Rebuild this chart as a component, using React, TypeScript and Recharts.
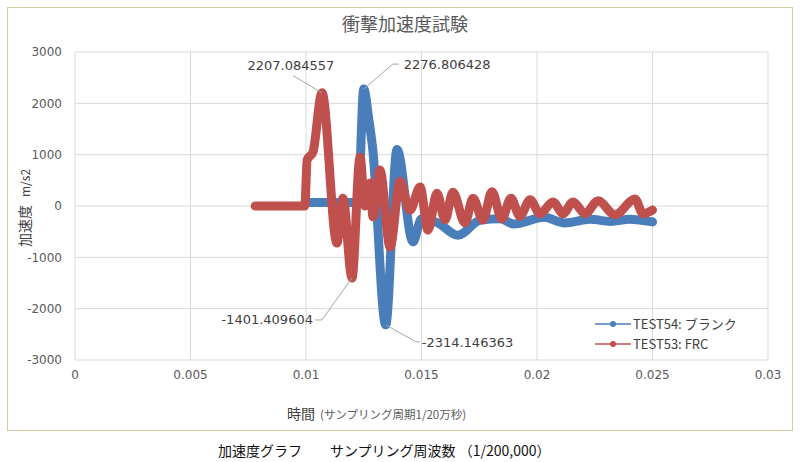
import { LineChart, Line, XAxis, YAxis, CartesianGrid } from "recharts";

// TEST54: ブランク (blue)
const test54Time = [0.01, 0.01225, 0.0125, 0.01273, 0.01288, 0.01345, 0.01394, 0.01463, 0.015, 0.0157, 0.01658, 0.01753, 0.0184, 0.019, 0.0203, 0.0212, 0.0223, 0.0232, 0.024, 0.025];
const test54Accel = [70, 70, 2276.806428, 1650, 1150, -2314.146363, 1100, -700, -250, -330, -570, -280, -250, -350, -220, -330, -260, -300, -260, -310];

// TEST53: FRC (red)
const test53Time = [0.0078, 0.00995, 0.01005, 0.0103, 0.01069, 0.01134, 0.0116, 0.01199, 0.01234, 0.01255, 0.01277, 0.0129, 0.0132, 0.01364, 0.01407, 0.0145, 0.01494, 0.01528, 0.01567, 0.01602, 0.01636, 0.01688, 0.01723, 0.01766, 0.01805, 0.01848, 0.01887, 0.01926, 0.0197, 0.02013, 0.02069, 0.02113, 0.02156, 0.02208, 0.02264, 0.02338, 0.02424, 0.02459, 0.025];
const test53Accel = [0, 0, 900, 1050, 2207.084557, -720, 150, -1401.409604, 950, 0, 450, -210, 700, -800, 480, -80, 370, -470, 250, -270, 270, -330, 150, -270, 280, -250, 150, -200, 120, -150, 80, -150, 80, -150, 100, -170, 135, -150, -80];

const xTicks = [0, 0.005, 0.01, 0.015, 0.02, 0.025, 0.03];
const yTicks = [-3000, -2000, -1000, 0, 1000, 2000, 3000];

const BLUE = "#4a7ebb";
const RED = "#c0504d";
const NUM_FONT = "'DejaVu Sans', 'Noto Sans CJK JP', sans-serif";
const JP_FONT = "'Noto Sans CJK JP', 'DejaVu Sans', sans-serif";

const rows: { t: number; a54?: number; a53?: number }[] = [];
test54Time.forEach((t, i) => rows.push({ t, a54: test54Accel[i] }));
test53Time.forEach((t, i) => rows.push({ t, a53: test53Accel[i] }));
rows.sort((p, q) => p.t - q.t);

const fmt = (v: number) => v.toFixed(6);

// leader-line offsets for the four labelled extremes
const annotate = (values: number[], color: string) => {
  const hi = Math.max(...values);
  const lo = Math.min(...values);
  return (props: any) => {
    const { x, y, value } = props;
    if (value !== hi && value !== lo) return <g />;
    const isBlue = color === BLUE;
    let path = "", tx = 0, ty = 0, anchor = "start";
    if (value === hi && isBlue) { path = `M${x},${y} l29,-25 l6,0`; tx = x + 40; ty = y - 25; }
    if (value === hi && !isBlue) { path = `M${x},${y} l-29,-17`; tx = x - 31; ty = y - 27; anchor = "middle"; }
    if (value === lo && !isBlue) { path = `M${x},${y} l-30,42 l-7,0`; tx = x - 39; ty = y + 42; anchor = "end"; }
    if (value === lo && isBlue) { path = `M${x},${y} l30,17 l4,0`; tx = x + 36; ty = y + 18; }
    return (
      <g>
        <path d={path} stroke="#a6a6a6" strokeWidth={1} fill="none" />
        <text x={tx} y={ty} dy="0.35em" textAnchor={anchor} fontSize={13} fill="#404040" fontFamily={NUM_FONT}>{fmt(value)}</text>
      </g>
    );
  };
};

const legendItems = [{ name: "TEST54: ブランク", color: BLUE }, { name: "TEST53: FRC", color: RED }];

const ChartLegend = () => (
  <div style={{ position: "absolute", left: 595, top: 314, fontFamily: JP_FONT, fontSize: 13, color: "#404040", lineHeight: "20px" }}>
    {legendItems.map((e) => (
      <div key={e.name} style={{ display: "flex", alignItems: "center" }}>
        <svg width={36} height={10} style={{ marginRight: 2 }}>
          <line x1={0} y1={5} x2={36} y2={5} stroke={e.color} strokeWidth={1.5} />
          <circle cx={18} cy={5} r={3} fill={e.color} />
        </svg>
        <span>{e.name}</span>
      </div>
    ))}
  </div>
);

export default function App() {
  return (
    <div style={{ position: "absolute", left: 0, top: 0, width: 800, height: 462, background: "#fff", overflow: "hidden" }}>
      <div style={{ position: "absolute", left: 7, top: 7, width: 784, height: 422, border: "1.5px solid #d3cba3" }} />
      <div style={{ position: "absolute", left: 0, width: 810, top: 10, textAlign: "center", fontFamily: JP_FONT, fontSize: 18, color: "#595959" }}>衝撃加速度試験</div>
      <div style={{ position: "absolute", left: 23, top: 208, transform: "translate(-50%, -50%) rotate(-90deg)", whiteSpace: "nowrap", fontFamily: JP_FONT, color: "#404040" }}>
        <span style={{ fontSize: 14 }}>加速度</span><span style={{ fontSize: 12, marginLeft: 8 }}>m/s2</span>
      </div>
      <div style={{ position: "absolute", left: 287, top: 400, whiteSpace: "nowrap", fontFamily: JP_FONT, color: "#404040" }}>
        <span style={{ fontSize: 14 }}>時間</span><span style={{ fontSize: 11.5, marginLeft: 5, color: "#595959" }}>(サンプリング周期1/20万秒)</span>
      </div>
      <div style={{ position: "absolute", left: 218, top: 440, whiteSpace: "nowrap", fontFamily: JP_FONT, fontSize: 14, color: "#111" }}>
        加速度グラフ　　サンプリング周波数 （1/200,000）
      </div>
      <LineChart width={800} height={462} data={rows} margin={{ top: 52, right: 32, bottom: 72, left: 15 }} style={{ position: "absolute", left: 0, top: 0 }}>
        <CartesianGrid stroke="#d9d9d9" strokeWidth={1} />
        <XAxis dataKey="t" type="number" domain={[0, 0.03]} ticks={xTicks} axisLine={false} tickLine={false} tickMargin={4} height={30}
          tick={{ fill: "#595959", fontSize: 12, fontFamily: NUM_FONT }} />
        <YAxis type="number" domain={[-3000, 3000]} ticks={yTicks} axisLine={false} tickLine={false} tickMargin={7} width={60}
          tick={{ fill: "#595959", fontSize: 12, fontFamily: NUM_FONT }} />
        <Line dataKey="a54" name="TEST54: ブランク" type="monotone" stroke={BLUE} strokeWidth={9} strokeLinejoin="round" strokeLinecap="round"
          dot={false} connectNulls isAnimationActive={false} label={annotate(test54Accel, BLUE)} />
        <Line dataKey="a53" name="TEST53: FRC" type="monotone" stroke={RED} strokeWidth={9} strokeLinejoin="round" strokeLinecap="round"
          dot={false} connectNulls isAnimationActive={false} label={annotate(test53Accel, RED)} />
      </LineChart>
      <ChartLegend />
    </div>
  );
}
